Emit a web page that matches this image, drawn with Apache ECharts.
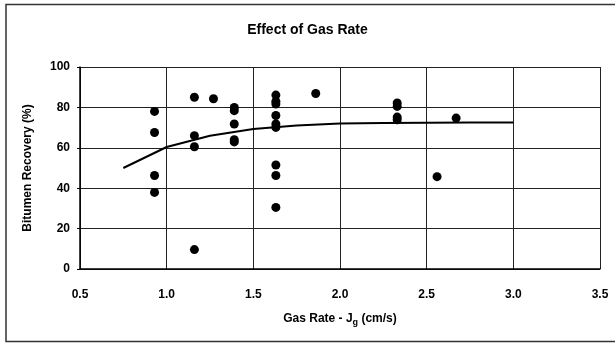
<!DOCTYPE html>
<html lang="en">
<head>
    <meta charset="UTF-8">
    <title>Effect of Gas Rate</title>
    <script src="https://cdn.jsdelivr.net/npm/echarts@6/dist/echarts.min.js"></script>
</head>
<style>
    body{
        margin: 0;
        padding: 0;
        background: #fff;
    }
</style>
<body>
<div id="main" style="width: 615px;height:343px;"></div>
<script>
    // measured points (gas rate cm/s, recovery %)
    var gasRate = [0.93, 0.93, 0.93, 0.93,
        1.16, 1.16, 1.16, 1.16, 1.27,
        1.39, 1.39, 1.39, 1.39, 1.39,
        1.63, 1.63, 1.63, 1.63, 1.63, 1.63, 1.63, 1.63, 1.63,
        1.86, 2.33, 2.33, 2.33, 2.33, 2.56, 2.67];
    var recovery = [78, 67.6, 46.3, 37.9,
        85, 66, 60.5, 9.6, 84.3,
        80, 78.4, 71.8, 64, 62.9,
        86.1, 83, 81.7, 76, 71.8, 70.1, 51.5, 46.3, 30.5,
        86.9, 82.2, 80.5, 75.2, 73.9, 45.7, 74.7];

    // trend line
    var trendX = [0.75, 1.0, 1.25, 1.5, 1.75, 2.0, 2.25, 2.5, 2.75, 3.0];
    var trendY = [50, 60.4, 66, 69.3, 71, 72, 72.3, 72.4, 72.5, 72.5];

    var xTicks = [0.5, 1.0, 1.5, 2.0, 2.5, 3.0, 3.5];
    var yTicks = [0, 20, 40, 60, 80, 100];

    var points = [];
    for (var i = 0; i < gasRate.length; i++) {
        points.push([gasRate[i], recovery[i]]);
    }
    var trend = [];
    for (var j = 0; j < trendX.length; j++) {
        trend.push([trendX[j], trendY[j]]);
    }

    var font = 'Liberation Sans, Arial, sans-serif';
    var gridLine = {show: true, lineStyle: {color: '#222', width: 1}};

    var chart = echarts.init(document.getElementById('main'));
    chart.setOption({
        animation: false,
        backgroundColor: '#fff',
        graphic: [{
            type: 'rect',
            shape: {x: 6, y: 4.5, width: 620, height: 337},
            style: {fill: 'none', stroke: '#333', lineWidth: 1.5},
            silent: true
        }],
        title: {
            text: 'Effect of Gas Rate',
            left: 'center',
            top: 18,
            textStyle: {fontFamily: font, fontSize: 14, fontWeight: 'bold', color: '#000'}
        },
        grid: {left: 80, right: 15, top: 67, bottom: 74},
        xAxis: {
            type: 'value',
            min: xTicks[0],
            max: xTicks[xTicks.length - 1],
            interval: 0.5,
            name: '{b|Gas Rate - J}{s|g}{b| (cm/s)}',
            nameLocation: 'middle',
            nameGap: 42,
            nameTextStyle: {
                rich: {
                    b: {fontFamily: font, fontSize: 12, fontWeight: 'bold', color: '#000'},
                    s: {fontFamily: font, fontSize: 9, fontWeight: 'bold', color: '#000', verticalAlign: 'bottom', padding: [7, 0, 0, 0]}
                }
            },
            axisLine: {show: true, onZero: false, lineStyle: {color: '#000', width: 1.5}},
            axisTick: {show: false},
            axisLabel: {
                margin: 20,
                fontFamily: font, fontSize: 12, fontWeight: 'bold', color: '#000',
                formatter: function (v) { return v.toFixed(1); }
            },
            splitLine: gridLine
        },
        yAxis: {
            type: 'value',
            min: yTicks[0],
            max: yTicks[yTicks.length - 1],
            interval: 20,
            name: 'Bitumen Recovery (%)',
            nameLocation: 'middle',
            nameGap: 46,
            nameTextStyle: {fontFamily: font, fontSize: 12, fontWeight: 'bold', color: '#000'},
            axisLine: {show: true, lineStyle: {color: '#000', width: 1.5}},
            axisTick: {show: true, inside: false, length: 3, lineStyle: {color: '#000'}},
            axisLabel: {margin: 10, fontFamily: font, fontSize: 12, fontWeight: 'bold', color: '#000'},
            splitLine: gridLine
        },
        series: [{
            name: 'data',
            type: 'scatter',
            data: points,
            symbol: 'circle',
            symbolSize: 9,
            itemStyle: {color: '#000', opacity: 1}
        }, {
            name: 'trend',
            type: 'line',
            data: trend,
            symbol: 'none',
            smooth: false,
            lineStyle: {color: '#000', width: 2}
        }]
    });
</script>
</body>
</html>
